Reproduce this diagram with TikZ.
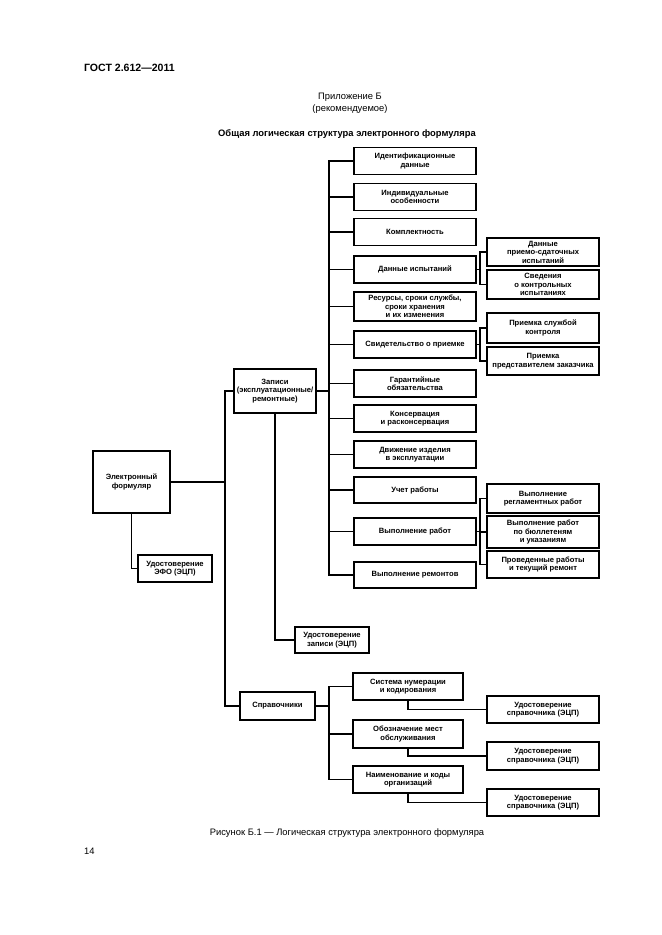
\documentclass[tikz,border=0pt]{standalone}
\usepackage{fontspec}
\setmainfont{Liberation Sans}
\usepackage{tikz}
\usetikzlibrary{positioning}
\tikzset{
  item/.style={
    minimum width=3.66cm,
    minimum height=0.82cm,
    align=center,
    draw=black,
    line width=1.3pt,
    inner sep=1pt,
    font=\fontsize{6.5}{7.2}\selectfont\bfseries
  },
  sub/.style={
    item,
    minimum width=3.36cm
  },
  link/.style={draw, line width=1.3pt}
}

\begin{document}
\begin{tikzpicture}[x=0.03cm, y=-0.03cm]
  \useasboundingbox (0,0) rectangle (661,935);
  \node [anchor=west, font=\small\bfseries] at (80,68) {ГОСТ 2.612—2011};
  \node [font=\footnotesize] at (350,97) {Приложение Б};
  \node [font=\footnotesize] at (350,109) {(рекомендуемое)};
  \node [font=\footnotesize\bfseries] at (347,134) {Общая логическая структура электронного формуляра};
  \node [font=\footnotesize] at (347,833) {Рисунок Б.1 — Логическая структура электронного формуляра};
  \node [anchor=west, font=\footnotesize] at (80,851) {14};

  % main blocks
  \node (form) [item, minimum width=2.31cm, minimum height=1.86cm] at (131.5,482) {Электронный\\формуляр};
  \node (formsig) [item, minimum width=2.22cm, minimum height=0.8cm] at (175,568.5) {Удостоверение\\ЭФО (ЭЦП)};
  \node (rec) [item, minimum width=2.46cm, minimum height=1.32cm] at (275,391) {Записи\\(эксплуатационные/\\ремонтные)};
  \node (recsig) [item, minimum width=2.22cm, minimum height=0.78cm] at (332,640) {Удостоверение\\записи (ЭЦП)};
  \node (ref) [item, minimum width=2.25cm, minimum height=0.84cm] at (277.5,706) {Справочники};

  % records column
  \node (r1) [item] at (415,161) {Идентификационные\\данные};
  \node (r2) [item] at (415,197) {Индивидуальные\\особенности};
  \node (r3) [item] at (415,232) {Комплектность};
  \node (r4) [item] at (415,269.5) {Данные испытаний};
  \node (r5) [item, minimum height=0.87cm] at (415,306.5) {Ресурсы, сроки службы,\\сроки хранения\\и их изменения};
  \node (r6) [item] at (415,344.5) {Свидетельство о приемке};
  \node (r7) [item] at (415,383.5) {Гарантийные\\обязательства};
  \node (r8) [item] at (415,418.5) {Консервация\\и расконсервация};
  \node (r9) [item] at (415,454.5) {Движение изделия\\в эксплуатации};
  \node (r10) [item, minimum height=0.78cm] at (415,490) {Учет работы};
  \node (r11) [item] at (415,531.5) {Выполнение работ};
  \node (r12) [item, minimum height=0.78cm] at (415,575) {Выполнение ремонтов};

  % sub items
  \node (t1) [sub, minimum height=0.84cm] at (543,252) {Данные\\приемо-сдаточных\\испытаний};
  \node (t2) [sub, minimum height=0.87cm] at (543,284.5) {Сведения\\о контрольных\\испытаниях};
  \node (a1) [sub, minimum height=0.9cm] at (543,328) {Приемка службой\\контроля};
  \node (a2) [sub, minimum height=0.84cm] at (543,361) {Приемка\\представителем заказчика};
  \node (w1) [sub, minimum height=0.87cm] at (543,498.5) {Выполнение\\регламентных работ};
  \node (w2) [sub, minimum height=0.96cm] at (543,532) {Выполнение работ\\по бюллетеням\\и указаниям};
  \node (w3) [sub, minimum height=0.81cm] at (543,564.5) {Проведенные работы\\и текущий ремонт};

  % reference books
  \node (s1) [item, minimum width=3.3cm] at (408,686.5) {Система нумерации\\и кодирования};
  \node (s2) [item, minimum width=3.3cm, minimum height=0.84cm] at (408,734) {Обозначение мест\\обслуживания};
  \node (s3) [item, minimum width=3.3cm] at (408,779.5) {Наименование и коды\\организаций};
  \node (g1) [sub] at (543,709.5) {Удостоверение\\справочника (ЭЦП)};
  \node (g2) [sub, minimum height=0.84cm] at (543,756) {Удостоверение\\справочника (ЭЦП)};
  \node (g3) [sub] at (543,802.5) {Удостоверение\\справочника (ЭЦП)};

  % connectors
  \coordinate (lspine) at (225,0);
  \coordinate (rspine) at (329,0);
  \path [link] (form) -- (form -| lspine);
  \path [link] (rec.west) -| (ref.west -| lspine) -- (ref.west);
  \path [link] (form.south) |- (formsig.west);
  \path [link] (rec.south) |- (recsig.west);
  \path [link] (r1.west) -| (r12.west -| rspine) -- (r12.west);
  \foreach \n in {r2,r3,r4,r5,r6,r7,r8,r9,r10,r11}
    \path [link] (\n.west) -- (\n.west -| rspine);
  \path [link] (rec.east) -- (rec.east -| rspine);
  \path [link] (s1.west) -| (s3.west -| rspine) -- (s3.west);
  \path [link] (s2.west) -- (s2.west -| rspine);
  \path [link] (ref.east) -- (ref.east -| rspine);
  \coordinate (bt) at (480,0);
  \path [link] (t1.west) -| (t2.west -| bt) -- (t2.west);
  \path [link] (r4.east) -- (r4.east -| bt);
  \path [link] (a1.west) -| (a2.west -| bt) -- (a2.west);
  \path [link] (r6.east) -- (r6.east -| bt);
  \path [link] (w1.west) -| (w3.west -| bt) -- (w3.west);
  \path [link] (w2.west) -- (w2.west -| bt);
  \path [link] (r11.east) -- (r11.east -| bt);
  \path [link] (s1.south) |- (g1.west);
  \path [link] (s2.south) |- (g2.west);
  \path [link] (s3.south) |- (g3.west);
\end{tikzpicture}
\end{document}
